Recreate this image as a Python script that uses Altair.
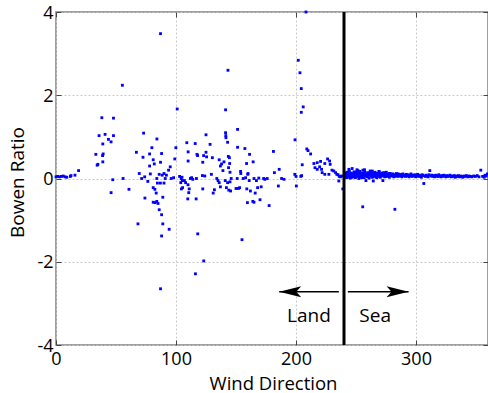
import altair as alt
import pandas as pd

# ---- data (wind direction in degrees, Bowen ratio) ----
land_near_north = [(0, 0.04), (1.5, 0.05), (3, 0.04), (4.5, 0.05), (6, 0.06), (7.5, 0.04),
                   (9, 0.03), (12, 0.05), (12.5, 0.07), (15.8, 0.08), (18.8, 0.19)]

land_30_100 = [(33.2, 0.58), (34.3, 0.32), (34.9, 0.34), (35.9, 1.03), (38.2, 1.46), (39, 0.83),
               (39.3, 0.59), (38.8, 0.55), (39, 0.40), (40.9, 1.06), (43.7, 0.94), (45.9, 0.88),
               (47.9, 1.45), (47.9, 1.03), (47.3, -0.03), (45.9, -0.34), (55.3, 2.24), (55.9, 0.0),
               (60.8, -0.26), (67, 0.63), (68.3, -1.09), (69.4, 0.12), (71.4, 0.0), (72.5, 0.51),
               (73, 1.09), (73.9, 0.04), (74.1, -0.47), (76.5, -0.07), (78, 0.59), (78, 0.30),
               (78.6, 0.11), (79.9, 0.74), (81, 0.45), (81, -0.22), (81.9, 0.35), (82.4, -0.26),
               (83.5, -0.35), (84.1, 0.95), (84.5, -0.11), (84, 0.0), (81, -0.57), (82.5, -0.58),
               (84, -0.55), (85, -0.6), (86, -0.75), (86, 0.10), (87, -0.11), (87.1, 0.39),
               (87.1, 3.48), (87.1, -2.65), (88, 0.60), (88, -0.87), (88, -1.38), (88.5, 0.08),
               (89, -1.09), (89, -0.45), (90, -0.11), (90, 0.12), (91, 0.0), (92, 0.08),
               (93.8, 0.20), (94.3, -1.22), (95.2, 0.28), (96, 0.0), (98, 0.02), (99, 0.47),
               (99.9, 0.74)]

land_100_200 = [(101, 1.67), (103, 0.05), (104, -0.1), (104.3, 0.0), (104.5, -0.25), (105, 0.03),
                (105.2, -0.05), (105.5, -0.22), (107, -0.05), (108, -0.1), (109, 0.86),
                (109.8, -0.49), (110, -0.15), (110.1, 0.64), (110.1, 0.42), (110.6, -0.34),
                (111, -0.25), (112, 0.0), (113, 0.02), (114, -0.02), (116, 0.84), (116.2, -2.29),
                (116.8, -0.49), (117, 0.0), (117.5, 0.58), (118, 0.55), (118.1, -1.33),
                (122, 0.07), (122.3, 0.39), (122.3, -0.25), (123, 0.55), (123.1, -1.98),
                (124, 0.06), (125, 1.05), (125, 0.63), (125.5, 0.52), (128.4, 0.82), (129.5, 0.10),
                (130.3, 0.50), (131, -0.35), (132, -0.27), (134, 0.0), (135, -0.05), (136, 0.45),
                (136, -0.1), (137, 0.3), (137, -0.2), (138, 0.35), (139.1, 0.19), (140, 0.4),
                (141, -0.05), (141.3, 1.65), (141.3, 1.10), (141.5, 1.03), (141.6, 0.98),
                (142, -0.22), (143, 0.87), (143, -0.1), (143.3, 2.60), (143.6, 0.53),
                (143.8, 0.26), (144, -0.28), (144.5, 0.5), (144.7, 0.36), (145, 0.15),
                (145, -0.08), (145.5, -0.3), (146, 0.0), (150, -0.24), (151, 0.0), (151.3, 1.18),
                (151.3, 0.75), (152, -0.24), (153, -0.22), (153.8, 0.17), (154, 0.12),
                (155, -1.47), (156, 0.0), (157.4, 0.72), (158, 0.02), (158.8, 0.36), (159, -0.25),
                (159.5, -0.58), (159.8, 0.10), (160, 0.12), (161, -0.05), (161.3, 0.58),
                (162, -0.3), (164, -0.55), (164.3, 0.40), (165, -0.57), (165, 0.0), (166, -0.35),
                (167, -0.05), (168, -0.22), (169, 0.01), (170, -0.51), (171, -0.2), (173, 0.0),
                (174, -0.02), (176, 0.0), (177.6, -0.65), (181.2, 0.65), (182, 0.14),
                (185.3, -0.18), (186, 0.22), (188, 0.0), (190, -0.02)]

land_195_240 = [(199.2, 0.93), (199, 0.1), (200, 0.05), (200.3, -0.18), (201.9, 2.84), (203.3, 2.54),
                (204, 0.05), (204.4, 2.16), (204.4, 1.59), (204.7, 0.07), (205.2, 0.33),
                (206, 1.72), (208.3, 4.0), (209, 0.71), (210, 0.67), (212.2, 0.59), (214.9, 0.36),
                (215.8, 0.26), (217.7, 0.38), (217.7, 0.22), (219.7, 0.28), (220.5, 0.41),
                (221.3, 0.22), (221.8, 0.14), (224, 0.36), (224, 0.10), (226.3, 0.47),
                (227.4, 0.10), (228, 0.42), (228.5, 0.34), (230, 0.2), (231.5, 0.18), (233, 0.14),
                (234, 0.1), (235.1, 0.09), (235.7, -0.06), (236, 0.05), (237.1, 0.04), (238, 0.06),
                (239, -0.25)]

sea_a_x = [240.3, 240.9, 241.4, 241.8, 242.3, 242.7, 243.2, 243.9, 244.4, 244.8, 245.3, 245.9, 246.2,
           246.8, 247.4, 247.9, 248.3, 248.8, 249.5, 249.9, 250.4, 250.8, 251.3, 251.9, 252.4, 252.9,
           253.3, 253.8, 254.4, 254.9, 255.2, 255.8, 256.3, 256.9, 257.4, 257.8, 258.3, 258.9, 259.4,
           259.8, 260.4, 260.9, 261.3, 261.8, 262.4, 262.9, 263.3, 263.9, 264.4, 264.8, 265.3, 265.9,
           266.4, 266.8, 267.3, 267.9, 268.4, 268.8, 269.4, 269.9, 270.3, 270.9, 271.4, 271.8, 272.4,
           272.9, 273.3, 273.8, 274.4, 274.9, 275.6, 276.3, 277.1, 277.8, 278.6, 279.2, 280.1, 280.8,
           281.5, 282.3, 283.1, 283.7, 284.6, 285.3, 286.1, 286.8, 287.6, 288.4, 289.1, 289.8]
sea_a_y = [0.08, 0.03, 0.12, 0.06, 0.15, 0.02, 0.10, 0.05, 0.18, 0.09, 0.01, 0.13, 0.07, 0.24, 0.04,
           0.11, 0.16, 0.06, 0.02, 0.14, 0.09, 0.21, 0.05, 0.12, 0.00, 0.08, 0.17, 0.03, 0.10, 0.13,
           0.06, 0.20, 0.09, 0.02, 0.15, 0.07, -0.05, 0.11, 0.04, 0.14, 0.08, 0.01, 0.12, 0.18, 0.06,
           0.09, 0.03, 0.13, -0.06, 0.10, 0.07, 0.15, 0.04, 0.11, 0.02, 0.08, 0.12, 0.05, 0.16, 0.09,
           0.03, 0.10, 0.06, 0.13, -0.05, 0.08, 0.11, 0.04, 0.09, 0.14, 0.07, 0.05, 0.10, 0.03, 0.12,
           0.08, 0.06, 0.11, 0.04, 0.09, 0.07, 0.12, 0.05, 0.08, 0.10, 0.06, 0.09, 0.04, 0.11, 0.07]

sea_a2_x = [240.7, 242.0, 243.6, 245.1, 246.5, 248.1, 249.2, 250.6, 252.1, 253.6, 255.0, 256.6, 258.1,
            259.6, 261.1, 262.6, 264.1, 265.6, 267.1, 268.6, 270.1, 271.6, 273.1, 274.6, 276.0, 277.5,
            279.0, 280.5, 282.0, 283.4, 285.0, 286.5, 288.0, 289.5, 244.1, 251.6, 257.1, 263.6, 269.1,
            275.2]
sea_a2_y = [0.05, 0.10, 0.14, 0.07, 0.03, 0.12, 0.09, 0.16, 0.06, 0.11, 0.02, 0.13, 0.08, 0.05, 0.10,
            0.15, 0.04, 0.09, 0.12, 0.06, 0.11, 0.08, 0.14, 0.05, 0.09, 0.12, 0.07, 0.10, 0.05, 0.08,
            0.11, 0.06, 0.09, 0.07, 0.22, 0.19, 0.21, 0.18, 0.17, 0.15]

sea_b_x = [290.4, 291.2, 291.9, 292.7, 293.5, 294.2, 295.1, 295.8, 296.6, 297.4, 298.1, 299.0, 299.7,
           300.5, 301.3, 302.1, 302.8, 303.6, 304.5, 305.2, 306.0, 306.5, 307.7, 308.4, 309.3, 310.1,
           310.8, 311.5, 312.4, 313.2, 314.0, 314.9, 315.7, 316.5, 317.3, 318.2, 319.0, 319.8, 320.7,
           321.5, 322.3, 323.2, 324.0, 324.9, 325.7, 326.6, 327.4, 328.3, 329.2, 330.1, 331.0, 331.8,
           332.7, 333.6, 334.5, 335.4, 336.3, 337.2, 338.1, 339.0, 340.0, 341.0, 342.0, 343.1, 344.2,
           345.3, 346.5, 348.0, 349.5, 351.0, 352.5, 354.0, 355.5, 356.8, 357.5, 358.5, 359.5]
sea_b_y = [0.08, 0.05, 0.10, 0.06, 0.09, 0.04, 0.07, 0.11, 0.05, 0.08, 0.06, 0.09, 0.04, 0.07, 0.10,
           0.05, 0.08, 0.06, 0.03, 0.09, 0.07, -0.12, 0.05, 0.08, 0.06, 0.04, 0.09, 0.19, 0.06, 0.08,
           0.05, 0.07, 0.04, 0.08, 0.06, 0.05, 0.09, 0.06, 0.04, 0.07, 0.05, 0.08, 0.06, 0.04, 0.07,
           0.05, 0.06, 0.08, 0.04, 0.06, 0.05, 0.07, 0.03, 0.06, 0.05, 0.07, 0.04, 0.06, 0.05, 0.03,
           0.06, 0.05, 0.07, 0.04, 0.06, 0.05, 0.04, 0.06, 0.05, 0.07, 0.04, 0.20, 0.05, 0.03, 0.08,
           0.06, 0.11]

sea_outliers = [(255.6, -0.68), (282.4, -0.74)]

boundary_direction = 240
land_arrow = {"start": 235.7, "tip": 186, "y": -2.72}
sea_arrow = {"start": 243.2, "tip": 293.8, "y": -2.72}
labels = [("Land", 210.8, -3.45), ("Sea", 266, -3.45)]

# ---- tables ----
pts = land_near_north + land_30_100 + land_100_200 + land_195_240 + sea_outliers
pts += list(zip(sea_a_x, sea_a_y)) + list(zip(sea_a2_x, sea_a2_y)) + list(zip(sea_b_x, sea_b_y))
df = pd.DataFrame(pts, columns=["wd", "br"])

arrows = pd.DataFrame([
    {"x": land_arrow["start"], "x2": land_arrow["tip"], "y": land_arrow["y"]},
    {"x": sea_arrow["start"], "x2": sea_arrow["tip"], "y": sea_arrow["y"]},
])
heads_left = pd.DataFrame([{"x": land_arrow["tip"], "y": land_arrow["y"]}])
heads_right = pd.DataFrame([{"x": sea_arrow["tip"], "y": sea_arrow["y"]}])
lbl = pd.DataFrame(labels, columns=["t", "x", "y"])
vline = pd.DataFrame([{"x": boundary_direction}])

FONT = "Open Sans"
xs = alt.Scale(domain=[0, 360], nice=False, zero=False)
ys = alt.Scale(domain=[-4, 4], nice=False, zero=False)

x_axis = alt.Axis(values=[0, 100, 200, 300], title="Wind Direction", grid=True, gridDash=[2, 2],
                  gridColor="#c8c8c8", domain=False, offset=-5, tickSize=5, tickColor="#444",
                  labelFont=FONT, labelFontSize=18, labelColor="#000", labelPadding=5,
                  labelFlush=False, titleFont=FONT, titleFontSize=18.5, titleFontWeight="normal",
                  titleColor="#000", titleX=217, titleY=49, titleBaseline="alphabetic")
y_axis = alt.Axis(values=[-4, -2, 0, 2, 4], title="Bowen Ratio", grid=True, gridDash=[2, 2],
                  gridColor="#c8c8c8", domain=False, offset=-5, tickSize=5, tickColor="#444",
                  labelFont=FONT, labelFontSize=18, labelColor="#000", labelPadding=3,
                  labelOffset=1, labelFlush=False,
                  labelExpr="datum.value < 0 ? '-' + abs(datum.value) : '' + datum.value",
                  titleFont=FONT, titleFontSize=19, titleFontWeight="normal", titleColor="#000",
                  titleX=-44, titleY=170, titleAngle=270, titleBaseline="middle")

points = alt.Chart(df).mark_square(size=8, color="#0000ff", opacity=1, filled=True).encode(
    x=alt.X("wd:Q", scale=xs, axis=x_axis),
    y=alt.Y("br:Q", scale=ys, axis=y_axis),
)

top_x = alt.Axis(orient="top", values=[0, 100, 200, 300], labels=False, grid=False, domain=False,
                 offset=-5, tickSize=5, tickColor="#444", title="")
right_y = alt.Axis(orient="right", values=[-4, -2, 0, 2, 4], labels=False, grid=False, domain=False,
                   offset=-5, tickSize=5, tickColor="#444", title="")

boundary = alt.Chart(vline).mark_rule(color="#000", strokeWidth=3).encode(
    x=alt.X("x:Q", scale=xs, axis=top_x),
    y=alt.datum(-4, scale=ys, axis=right_y),
    y2=alt.datum(4),
)

shafts = alt.Chart(arrows).mark_rule(color="#000", strokeWidth=1.5).encode(
    x=alt.X("x:Q", scale=xs, axis=None), x2="x2:Q", y=alt.Y("y:Q", scale=ys, axis=None))

LEFT_HEAD = "M-1,0 L1,-0.5 L0.55,0 L1,0.5 Z"
RIGHT_HEAD = "M1,0 L-1,-0.5 L-0.55,0 L-1,0.5 Z"
hl = alt.Chart(heads_left).mark_point(shape=LEFT_HEAD, size=484, filled=True, color="#000",
                                      opacity=1, strokeWidth=0, xOffset=11).encode(
    x=alt.X("x:Q", scale=xs, axis=None), y=alt.Y("y:Q", scale=ys, axis=None))
hr = alt.Chart(heads_right).mark_point(shape=RIGHT_HEAD, size=484, filled=True, color="#000",
                                       opacity=1, strokeWidth=0, xOffset=-11).encode(
    x=alt.X("x:Q", scale=xs, axis=None), y=alt.Y("y:Q", scale=ys, axis=None))

texts = alt.Chart(lbl).mark_text(font=FONT, fontSize=19, color="#000", align="center",
                                 baseline="alphabetic").encode(
    x=alt.X("x:Q", scale=xs, axis=None), y=alt.Y("y:Q", scale=ys, axis=None), text="t:N")

chart = alt.layer(points, boundary, shafts, hl, hr, texts).resolve_axis(
    x="independent", y="independent"
).properties(
    width=432, height=333,
    autosize=alt.AutoSizeParams(type="none"),
    padding={"left": 56, "top": 12, "right": 0, "bottom": 48},
    background="#ffffff",
).configure_view(stroke="#808080", strokeWidth=1.5)

chart.save("out.html", embed_options={"renderer": "svg", "actions": False})
